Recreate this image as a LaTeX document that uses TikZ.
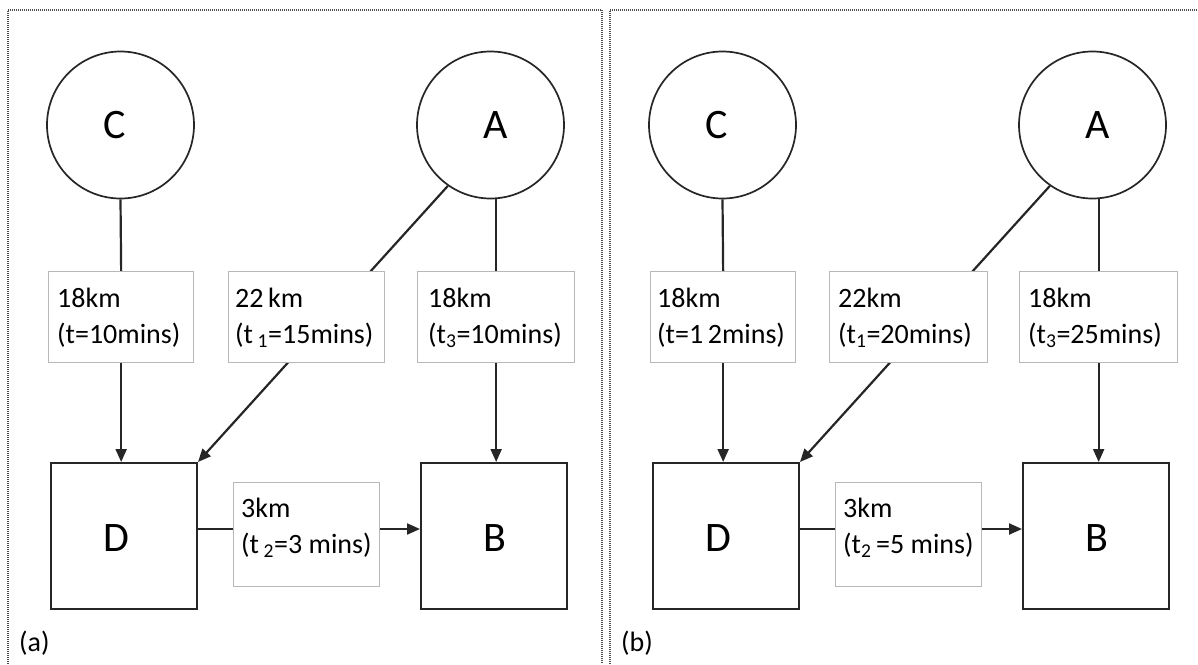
\documentclass[tikz,border=0pt]{standalone}
\usepackage{fontspec}
\setmainfont{Carlito}
\usetikzlibrary{arrows.meta,calc}
\pgfdeclarelayer{bg}
\pgfsetlayers{bg,main}
\begin{document}
\begin{tikzpicture}[x=1pt,y=-1pt,
  circ/.style={circle,draw=black!85,line width=1.7pt,minimum size=147pt,inner sep=0pt},
  sq/.style={rectangle,draw=black!85,line width=2pt,minimum width=146pt,minimum height=146pt,inner sep=0pt},
  lblbox/.style={rectangle,draw=black!28,line width=1.3pt,fill=white,inner sep=0pt,anchor=north west,minimum height=91pt},
  lbltext/.style={anchor=north west,align=left,font=\fontsize{28}{36}\selectfont,inner sep=0pt},
  big/.style={anchor=base,font=\fontsize{42}{50}\selectfont,inner sep=0pt},
  tag/.style={anchor=base west,font=\fontsize{28}{34}\selectfont,inner sep=0pt},
  conn/.style={draw=black!85,line width=2.2pt},
  arr/.style={conn,-{Triangle[length=13pt,width=11pt]}},
  panel/.style={draw=black!70,line width=1.6pt,dash pattern=on 1pt off 1pt}]
\useasboundingbox (0,0) rectangle (1198,664);
\newcommand{\fl}{\rule{0pt}{24pt}}

% panel frames
\draw[panel] (8,664) -- (8,10) -- (602,10) -- (602,664);
\draw[panel] (610,664) -- (610,10) -- (1198,10);

% ---------- panel (a) ----------
\node[circ] (Ca) at (120.5,125) {};
\node[circ] (Aa) at (490.5,125) {};
\node[sq] (Da) at (124,536) {};
\node[sq] (Ba) at (494,536) {};
\node[big] (tCa) at (114.5,138) {C};
\node[big] (tAa) at (495.5,138) {A};
\node[big] (tDa) at (116.5,551) {D};
\node[big] (tBa) at (495,551) {B};

\node[lblbox,minimum width=145pt] (b1a) at (48,271) {};
\node[lblbox,minimum width=156pt] (b2a) at (228,271) {};
\node[lblbox,minimum width=157pt] (b3a) at (417,271) {};
\node[lblbox,minimum width=146pt,minimum height=104pt] (b4a) at (233,482) {};
\node[lbltext] (l1a) at (57,283) {\fl 18km\\(t=10mins)};
\node[lbltext] (l2a) at (235,283) {\fl 22\,km\\(t\,\textsubscript{1}=15mins)};
\node[lbltext] (l3a) at (428,283) {\fl 18km\\(t\textsubscript{3}=10mins)};
\node[lbltext] (l4a) at (241,493) {\fl 3km\\(t\,\textsubscript{2}=3 mins)};
\node[tag] (tga) at (19,651) {(a)};

\begin{pgfonlayer}{bg}
\draw[conn] (Ca.south) -- (b1a.north);
\draw[arr] (b1a.south) -- (b1a.south |- Da.north);
\draw[conn] (b3a.north |- Aa.south) -- (b3a.north);
\draw[arr] (b3a.south) -- (b3a.south |- Ba.north);
\draw[arr] (Aa.235) -- (Da.north east);
\coordinate (ha) at ($(Da.east)+(0,-7)$);
\draw[arr] (ha) -- (ha -| Ba.west);
\end{pgfonlayer}

% ---------- panel (b) ----------
\node[circ] (Cb) at (722.5,125) {};
\node[circ] (Ab) at (1092.5,125) {};
\node[sq] (Db) at (726,536) {};
\node[sq] (Bb) at (1096,536) {};
\node[big] (tCb) at (716.5,138) {C};
\node[big] (tAb) at (1097.5,138) {A};
\node[big] (tDb) at (718.5,551) {D};
\node[big] (tBb) at (1097,551) {B};

\node[lblbox,minimum width=145pt] (b1b) at (650,271) {};
\node[lblbox,minimum width=158pt] (b2b) at (829,271) {};
\node[lblbox,minimum width=158pt] (b3b) at (1019,271) {};
\node[lblbox,minimum width=146pt,minimum height=104pt] (b4b) at (835,482) {};
\node[lbltext] (l1b) at (657,283) {\fl 18km\\(t=1\,2mins)};
\node[lbltext] (l2b) at (838,283) {\fl 22km\\(t\textsubscript{1}=20mins)};
\node[lbltext] (l3b) at (1028,283) {\fl 18km\\(t\textsubscript{3}=25mins)};
\node[lbltext] (l4b) at (843,493) {\fl 3km\\(t\textsubscript{2}\,=5 mins)};
\node[tag] (tgb) at (621,651) {(b)};

\begin{pgfonlayer}{bg}
\draw[conn] (Cb.south) -- (b1b.north);
\draw[arr] (b1b.south) -- (b1b.south |- Db.north);
\draw[conn] (b3b.north |- Ab.south) -- (b3b.north);
\draw[arr] (b3b.south) -- (b3b.south |- Bb.north);
\draw[arr] (Ab.235) -- (Db.north east);
\coordinate (hb) at ($(Db.east)+(0,-7)$);
\draw[arr] (hb) -- (hb -| Bb.west);
\end{pgfonlayer}
\end{tikzpicture}
\end{document}
